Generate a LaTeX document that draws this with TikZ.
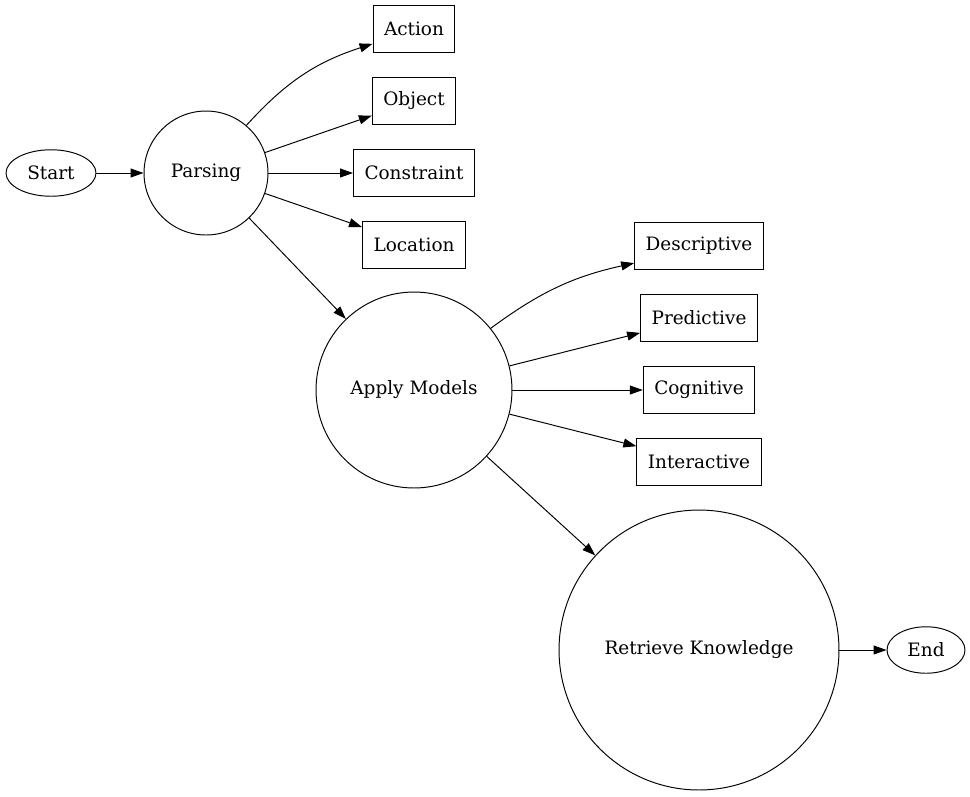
\documentclass[tikz,border=0pt]{standalone}
\usepackage{fontspec}
\setmainfont{DejaVu Serif}
\usetikzlibrary{shapes.geometric,arrows.meta}
\begin{document}
\begin{tikzpicture}[
		x=0.02cm, y=-0.02cm,
		every node/.style={draw, font=\fontsize{10.5}{12.5}\selectfont, line width=0.55pt},
		term/.style={ellipse, inner sep=0pt, minimum height=0.93cm},
		stage/.style={circle, inner sep=0pt},
		part/.style={rectangle, inner xsep=0.22cm, minimum height=0.95cm},
		flow/.style={-{Triangle[length=0.26cm,width=0.18cm]}, line width=0.55pt}
	]
	\useasboundingbox (0,0) rectangle (970,796);
	\node[term, minimum width=1.8cm] (start) at (51,173) {Start};
	\node[stage, minimum size=2.48cm] (parsing) at (206,173) {Parsing};
	\node[part] (action) at (414,29) {Action};
	\node[part] (object) at (414,101) {Object};
	\node[part] (constraint) at (414,173) {Constraint};
	\node[part] (location) at (414,245) {Location};
	\node[stage, minimum size=3.92cm] (models) at (414,390) {Apply Models};
	\node[part] (descriptive) at (699,246) {Descriptive};
	\node[part] (predictive) at (699,318) {Predictive};
	\node[part] (cognitive) at (699,390) {Cognitive};
	\node[part] (interactive) at (699,462) {Interactive};
	\node[stage, minimum size=5.6cm] (knowledge) at (699,650) {Retrieve Knowledge};
	\node[term, minimum width=1.56cm] (end) at (926,650) {End};
	% edges
	\draw[flow] (start) -- (parsing);
	\draw[flow] (parsing) to[bend left=15] (action);
	\draw[flow] (parsing) -- (object);
	\draw[flow] (parsing) -- (constraint);
	\draw[flow] (parsing) -- (location);
	\draw[flow] (parsing) -- (models);
	\draw[flow] (models) to[bend left=12] (descriptive);
	\draw[flow] (models) -- (predictive);
	\draw[flow] (models) -- (cognitive);
	\draw[flow] (models) -- (interactive);
	\draw[flow] (models) -- (knowledge);
	\draw[flow] (knowledge) -- (end);
\end{tikzpicture}
\end{document}
